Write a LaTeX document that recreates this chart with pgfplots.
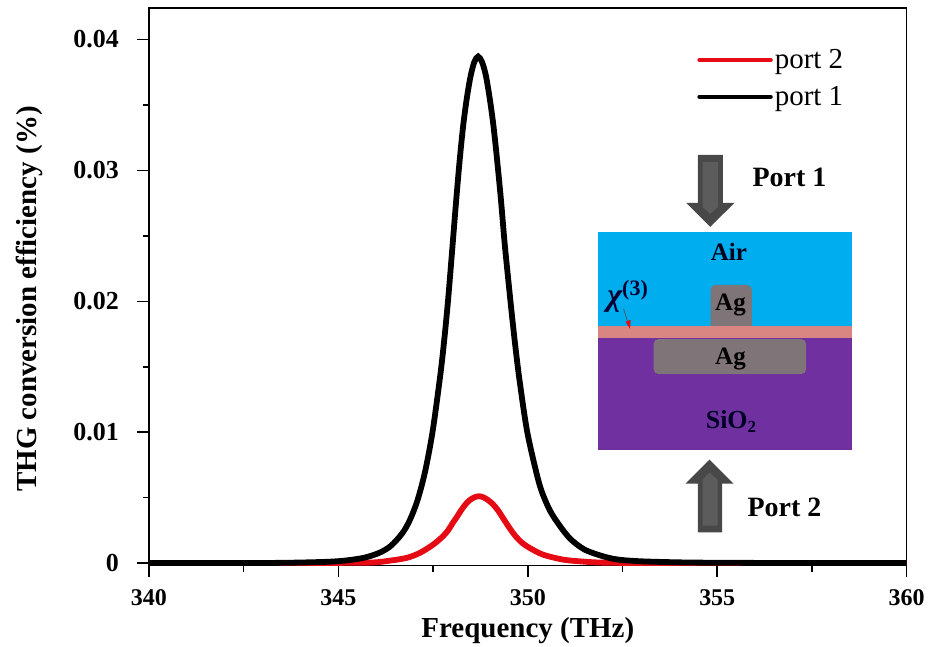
\documentclass[border=0pt]{standalone}
\usepackage{pgfplots}
\pgfplotsset{compat=1.18}
\usepackage{fontspec}
\setmainfont{Liberation Serif}
\definecolor{cblue}{HTML}{00AEEF}
\definecolor{cpink}{HTML}{D98683}
\definecolor{cpurple}{HTML}{7030A0}
\definecolor{cag}{HTML}{7F7478}
\definecolor{cred}{HTML}{E60A14}
\definecolor{carrow}{HTML}{484848}
\definecolor{carrowl}{HTML}{5C5C5C}
\newcommand{\fs}[1]{\fontsize{#1}{#1}\selectfont}
\begin{document}
\begin{tikzpicture}[x=1pt,y=-1pt]
\path (0,0) rectangle (928,643);
\begin{axis}[
  at={(149pt,-566pt)}, anchor=south west,
  scale only axis, width=758.3pt, height=558pt,
  xmin=340, xmax=360, ymin=-0.00019, ymax=0.04241,
  axis line style={line width=1.5pt},
  tick style={line width=1.5pt,black},
  tick align=outside, xtick pos=bottom, ytick pos=left,
  major tick length=11.5pt, minor tick length=6pt,
  scaled y ticks=false,
  xtick={340,345,350,355,360},
  xticklabels={340,345,350,355,360},
  minor xtick={342.5,347.5,352.5,357.5},
  ytick={0,0.01,0.02,0.03,0.04},
  yticklabels={0\hspace{25.5pt},0.01,0.02,0.03,0.04},
  minor ytick={0.005,0.015,0.025,0.035},
  /pgf/number format/assume math mode=true,
  xticklabel style={font=\bfseries\fs{24}, yshift=-8.5pt},
  yticklabel style={font=\bfseries\fs{26}, xshift=-15pt},
  every axis x label/.style={at={(axis description cs:0.5,-0.116)},anchor=center},
  every axis y label/.style={at={(axis description cs:-0.158,0.478)},anchor=center,rotate=90},
  xlabel={\bfseries\fs{29}Frequency (THz)},
  ylabel={\bfseries\fs{29}THG conversion efficiency (\%)},
  legend cell align=left,
  legend style={draw=none,fill=none,at={(0.7235,0.929)},anchor=north west,
    font=\fs{29},row sep=12pt,inner sep=0pt},
  legend image code/.code={\draw[#1,line cap=round,line width=4.5pt] (0pt,0pt)--(71pt,0pt);},
]
\addplot[cred,line width=5.8pt,smooth] coordinates {
(340,0) (343,0.00001) (345,0.00002) (345.91,0.00005) (346.36,0.00019) (346.80,0.00040)
(347.15,0.00078) (347.50,0.00141) (347.76,0.00205) (347.90,0.00252) (348.02,0.00307) (348.14,0.00358) (348.25,0.00408)
(348.36,0.00450) (348.47,0.00482) (348.60,0.00504) (348.71,0.00511) (348.82,0.00504) (348.95,0.00482) (349.08,0.00450) (349.21,0.00405) (349.32,0.00356) (349.43,0.00307)
(349.55,0.00255) (349.68,0.00205) (349.85,0.00155) (350.05,0.00116) (350.40,0.00065) (350.93,0.00027) (351.45,0.00012)
(351.97,0.00004) (353,0.00001) (355,0) (360,0)};
\addlegendentry{port 2}
\addplot[black,line width=5.8pt,smooth] coordinates {
(340,0) (342.69,0.00001) (343.69,0.00003) (344.69,0.0001) (345.19,0.0002) (345.69,0.00042)
(346.09,0.0008) (346.39,0.00133) (346.69,0.00229) (346.89,0.00331) (347.09,0.00481)
(347.29,0.0070) (347.49,0.0101) (347.69,0.01435) (347.79,0.01692) (347.89,0.0199)
(347.99,0.0234) (348.09,0.0270) (348.19,0.0304) (348.29,0.0333) (348.39,0.0355)
(348.49,0.0372) (348.59,0.0383) (348.69,0.0387) (348.79,0.0383) (348.89,0.0373)
(348.99,0.0356) (349.09,0.0335) (349.19,0.0308) (349.29,0.0278) (349.39,0.0244)
(349.49,0.0215) (349.59,0.0187) (349.69,0.0161) (349.79,0.0138) (349.99,0.00995)
(350.29,0.0062) (350.49,0.0046) (350.69,0.0035) (351.09,0.00195) (351.49,0.00105)
(351.99,0.00052) (352.39,0.00027) (352.99,0.00014) (353.99,0.00006) (354.99,0.00003)
(356.99,0.00001) (360,0)};
\addlegendentry{port 1}
\end{axis}
% inset diagram
\fill[cblue] (598,232) rectangle (852.3,327);
\fill[cpurple] (598,338) rectangle (852.3,450.7);
\fill[cag,rounded corners=5pt] (711,285) rectangle (752.3,332);
\fill[cpink] (598,326.7) rectangle (852.3,338.3);
\fill[cag,rounded corners=5pt] (654,339.3) rectangle (806.7,374.3);
\node[font=\bfseries\fs{25},text=black!90!blue] at (729.3,252.5) {Air};
\node[font=\bfseries\fs{25},text=black] at (731,305) {Ag};
\node[font=\bfseries\fs{25},text=black] at (731,359) {Ag};
\node[font=\bfseries\fs{26},text=black!85!blue] at (731.5,422) {SiO\raisebox{-4pt}{\fs{17}2}};
\node[font=\bfseries\fs{32},text=black!80!blue] at (628,296) {\itshape χ\raisebox{10pt}{\upshape\fs{22}(3)}};
\draw[line width=0.7pt,black!70] (624,309) -- (628,322);
\fill[cred] (626,322) -- (631,320) -- (630.5,329) -- cycle;
% Port 1 arrow
\fill[carrow] (698.3,155) -- (723.3,155) -- (723.3,203) -- (735,203) -- (710.7,227) -- (686.7,203) -- (698.3,203) -- cycle;
\fill[carrowl] (703,162) -- (718.5,162) -- (718.5,207) -- (710.7,214) -- (703,207) -- cycle;
\node[font=\bfseries\fs{28}] at (790,178) {Port 1};
% Port 2 arrow
\fill[carrow] (698.3,532.7) -- (722.7,532.7) -- (722.7,484) -- (734,484) -- (710,460) -- (686,484) -- (698.3,484) -- cycle;
\fill[carrowl] (703,526) -- (718,526) -- (718,480) -- (710,473) -- (703,480) -- cycle;
\node[font=\bfseries\fs{28}] at (785,508) {Port 2};
\end{tikzpicture}
\end{document}
